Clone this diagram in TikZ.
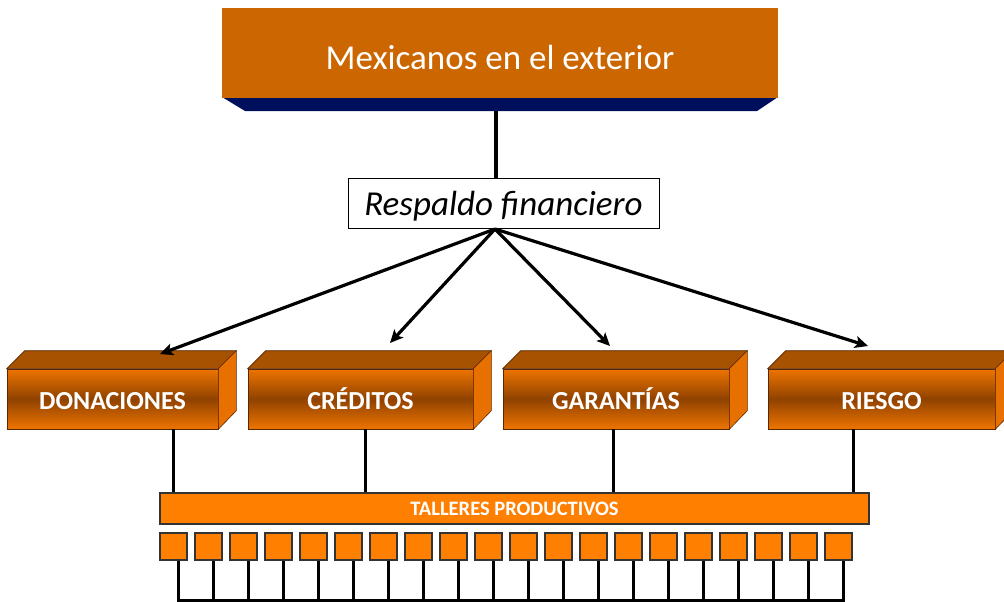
\documentclass[tikz,border=0pt]{standalone}
\usepackage{fontspec}
\setmainfont{Carlito}
\usetikzlibrary{arrows.meta,calc}
\definecolor{topor}{HTML}{CC6600}
\definecolor{navyb}{HTML}{000F5C}
\definecolor{boxlight}{HTML}{EE7400}
\definecolor{boxdark}{HTML}{904200}
\definecolor{boxtop}{HTML}{A65200}
\definecolor{boxside}{HTML}{E87000}
\definecolor{edgec}{HTML}{5A2800}
\definecolor{tall}{HTML}{FF7F00}
\newcommand{\cubefaces}[1]{%
  \fill[boxtop,draw=edgec,line width=0.6pt] (#1.north west) -- ++(18,-18) -- ($(#1.north east)+(18,-18)$) -- (#1.north east) -- cycle;
  \fill[boxside,draw=edgec,line width=0.6pt] (#1.north east) -- ++(18,-18) -- ++(0,60) -- (#1.south east) -- cycle;
}
\begin{document}
\begin{tikzpicture}[x=1pt,y=-1pt,
  cube/.style={shade, top color=boxlight, bottom color=boxlight, middle color=boxdark,
    draw=edgec, line width=0.6pt, minimum height=60pt, inner sep=0pt,
    font=\fontsize{26}{26}\selectfont\bfseries, text=white, text depth=0pt, text height=21pt},
  conn/.style={line width=3pt, black},
  arr/.style={line width=3.2pt, black, -{Stealth[length=13pt,width=12pt,inset=3pt]}},
  sq/.style={fill=tall, draw=black!80, line width=1.2pt, minimum width=27pt, minimum height=27pt, inner sep=0pt},
  stem/.style={line width=3pt, black}
]
\useasboundingbox (0,0) rectangle (1004,602);

% top box
\fill[navyb] (222,97) -- (778,97) -- (757,111) -- (245,111) -- cycle;
\node[fill=topor, minimum width=556pt, minimum height=90pt, inner sep=0pt, text=white,
  font=\fontsize{35}{35}\selectfont, text height=33pt, text depth=0pt] (top) at (500,53) {Mexicanos en el exterior};
\coordinate (topb) at (496,111);

% respaldo
\node[draw=black, line width=0.8pt, fill=white, minimum width=311pt, minimum height=50pt, inner sep=0pt,
  font=\fontsize{35}{35}\selectfont\itshape, text height=26pt, text depth=2pt] (resp) at (503.5,203) {Respaldo financiero};
\draw[line width=3.5pt] (topb) -- (topb |- resp.north);
\coordinate (hub) at (495,229);

% cubes
\node[cube, minimum width=211pt] (don) at (112.5,399) {DONACIONES};
\cubefaces{don}
\node[cube, minimum width=225pt] (cre) at (360.5,399) {CRÉDITOS};
\cubefaces{cre}
\node[cube, minimum width=226pt] (gar) at (616,399) {GARANTÍAS};
\cubefaces{gar}
\node[cube, minimum width=227pt] (rie) at (881.5,399) {RIESGO};
\cubefaces{rie}

% arrows
\coordinate (adon) at (160,354);
\coordinate (acre) at (390,343);
\coordinate (agar) at (610,346);
\coordinate (arie) at (868,346);
\draw[arr] (hub) -- (adon);
\draw[arr] (hub) -- (acre);
\draw[arr] (hub) -- (agar);
\draw[arr] (hub) -- (arie);

% talleres bar
\node[fill=tall, draw=black!80, line width=1.2pt, minimum width=709pt, minimum height=31pt, inner sep=0pt,
  text=white, font=\fontsize{20.5}{20.5}\selectfont\bfseries, text height=14pt, text depth=0pt] (bar) at (514.5,508.5) {TALLERES PRODUCTIVOS};

\draw[conn] ([xshift=61pt]don.south) -- ([xshift=61pt]don.south |- bar.north);
\draw[conn] ([xshift=4.5pt]cre.south) -- ([xshift=4.5pt]cre.south |- bar.north);
\draw[conn] ([xshift=-3pt]gar.south) -- ([xshift=-3pt]gar.south |- bar.north);
\draw[conn] ([xshift=-28.5pt]rie.south) -- ([xshift=-28.5pt]rie.south |- bar.north);

% squares
\coordinate (base) at (0,600);
\foreach \i in {0,...,19} {
  \node[sq] (s\i) at ({173.5+35*\i},546.5) {};
  \draw[stem] ([xshift=4.5pt]s\i.south) -- ([xshift=4.5pt]s\i.south |- base);
}
\draw[stem, line cap=rect] ([xshift=4.5pt]s0.south |- base) -- ([xshift=4.5pt]s19.south |- base);
\end{tikzpicture}
\end{document}
